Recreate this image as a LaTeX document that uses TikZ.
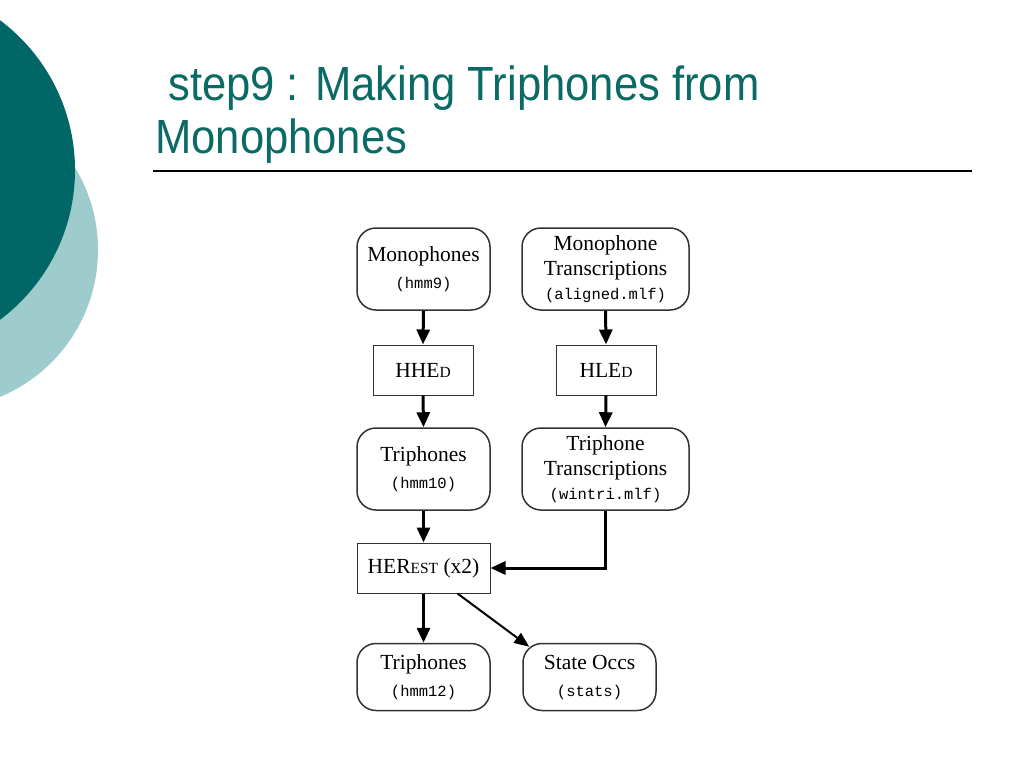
\documentclass[tikz,border=0pt]{standalone}
\usepackage{fontspec}
\setmainfont{Liberation Serif}
\setmonofont{Liberation Mono}
\newfontfamily\titlefont{Liberation Sans}
\usetikzlibrary{arrows.meta}
\definecolor{darkteal}{RGB}{0,102,102}
\definecolor{lightteal}{RGB}{158,204,204}
\definecolor{titleteal}{RGB}{10,106,100}
\definecolor{boxline}{RGB}{50,50,50}
\newcommand{\mono}[1]{{\ttfamily\fontsize{15.5}{18}\selectfont #1}}
\newcommand{\smallcap}[1]{{\fontsize{15.5}{18}\selectfont #1}}
\newcommand{\tallscale}[1]{\scalebox{1}[1.1]{#1}}
\begin{document}
\begin{tikzpicture}[x=1pt,y=-1pt,
  datum/.style={draw=boxline, line width=1.5pt, rounded corners=19pt, minimum width=133pt, minimum height=82pt, align=center, inner sep=0pt, font=\fontsize{21.5}{25}\selectfont},
  tool/.style={draw=boxline, line width=1pt, minimum width=100pt, minimum height=50pt, inner sep=0pt, font=\fontsize{21.5}{25}\selectfont},
  flow/.style={line width=3pt, -{Triangle[length=15pt,width=13pt]}},
  thinflow/.style={line width=2pt, -{Triangle[length=15pt,width=12pt]}},
  titletext/.style={anchor=base west, inner sep=0pt, text=titleteal, font=\titlefont\fontsize{43.6}{52}\selectfont}
]
\useasboundingbox (0,0) rectangle (1024,768);
\begin{scope}
\clip (0,0) rectangle (1024,768);
\fill[lightteal] (-61,250) circle[radius=159pt];
\fill[darkteal] (-112,170) circle[radius=187pt];
\end{scope}

\node[titletext] (t1) at (168,100) {\tallscale{step9 : Making Triphones from}};
\node[titletext] (t2) at (155,153) {\tallscale{Monophones}};
\draw[line width=1.3pt] (153,171) -- (972,171);

\node[datum] (mono) at (423.5,269) {Monophones\\[2pt]\mono{(hmm9)}};
\node[datum, minimum width=167pt] (montr) at (605.5,269) {Monophone\\Transcriptions\\[-1pt]\mono{(aligned.mlf)}};
\node[tool] (hhed) at (423,370) {HHE\smallcap{D}};
\node[tool] (hled) at (606,370) {HLE\smallcap{D}};
\node[datum] (tri10) at (423.5,469) {Triphones\\[2pt]\mono{(hmm10)}};
\node[datum, minimum width=167pt] (tritr) at (605.5,469) {Triphone\\Transcriptions\\[-1pt]\mono{(wintri.mlf)}};
\node[tool, minimum width=133pt] (herest) at (423.5,568) {HER\smallcap{EST} (x2)\hspace{14pt}};
\node[datum, minimum height=67pt] (tri12) at (423.5,677) {Triphones\\[2pt]\mono{(hmm12)}};
\node[datum, minimum height=67pt] (stocc) at (589.5,677) {State Occs\\[2pt]\mono{(stats)}};

\draw[flow] (mono.south) -- (hhed.north);
\draw[flow] (hhed.south) -- (tri10.north);
\draw[flow] (tri10.south) -- (herest.north);
\draw[flow] (herest.south) -- (tri12.north);
\draw[flow] (montr.south) -- (hled.north);
\draw[flow] (hled.south) -- (tritr.north);
\draw[flow] (tritr.south) |- (herest.east);
\draw[thinflow] ([xshift=-33pt]herest.south east) -- ([xshift=7pt,yshift=-4pt]stocc.north west);
\end{tikzpicture}
\end{document}
